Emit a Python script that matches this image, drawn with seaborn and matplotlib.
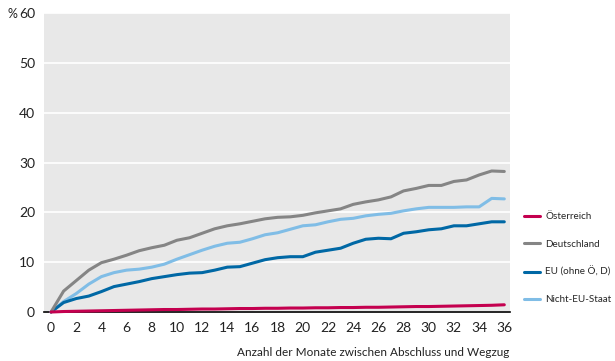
import numpy as np
import pandas as pd
import matplotlib
matplotlib.use("Agg")
import matplotlib.pyplot as plt
import seaborn as sns

months = list(range(37))

oesterreich = [0.0, 0.1, 0.15, 0.2, 0.25, 0.3, 0.35, 0.4, 0.45, 0.5, 0.5, 0.55, 0.6, 0.6, 0.65, 0.7, 0.7,
               0.75, 0.75, 0.8, 0.8, 0.85, 0.85, 0.9, 0.9, 0.95, 0.95, 1.0, 1.05, 1.1, 1.1, 1.15, 1.2,
               1.25, 1.3, 1.35, 1.45]
deutschland = [0.0, 4.2, 6.3, 8.4, 9.9, 10.6, 11.4, 12.3, 12.9, 13.4, 14.4, 14.9, 15.8, 16.7, 17.3, 17.7,
               18.2, 18.7, 19.0, 19.1, 19.4, 19.9, 20.3, 20.7, 21.6, 22.1, 22.5, 23.1, 24.3, 24.8, 25.4,
               25.4, 26.2, 26.5, 27.5, 28.3, 28.2]
eu_ohne = [0.0, 1.9, 2.7, 3.2, 4.1, 5.1, 5.6, 6.1, 6.7, 7.1, 7.5, 7.8, 7.9, 8.4, 9.0, 9.1, 9.8, 10.5, 10.9,
           11.1, 11.1, 12.0, 12.4, 12.8, 13.8, 14.6, 14.8, 14.7, 15.8, 16.1, 16.5, 16.7, 17.3, 17.3, 17.7,
           18.1, 18.1]
nicht_eu = [0.0, 2.1, 3.7, 5.6, 7.1, 7.9, 8.4, 8.6, 9.0, 9.6, 10.6, 11.5, 12.4, 13.2, 13.8, 14.0, 14.7,
            15.5, 15.9, 16.6, 17.3, 17.5, 18.1, 18.6, 18.8, 19.3, 19.6, 19.8, 20.3, 20.7, 21.0, 21.0, 21.0,
            21.1, 21.1, 22.8, 22.7]

series = ["Österreich", "Deutschland", "EU (ohne Ö, D)", "Nicht-EU-Staat"]
colors = ["#c4004f", "#858585", "#0068a5", "#80bde6"]

df = pd.concat([
    pd.DataFrame({"Monat": months, "Anteil": vals, "Ziel": name})
    for name, vals in zip(series, [oesterreich, deutschland, eu_ohne, nicht_eu])
])

sns.set_theme(style="white")
plt.rcParams["font.family"] = ["Lato", "DejaVu Sans"]

fig = plt.figure(figsize=(6.15, 3.61), dpi=100)
ax = fig.add_axes([0.0715, 0.1357, 0.7577, 0.8283])
ax.set_facecolor("#e8e8e8")

# draw light lines first so the red one lies on top, like the original
draw_order = ["Nicht-EU-Staat", "EU (ohne Ö, D)", "Deutschland", "Österreich"]
for name in draw_order:
    sub = df[df["Ziel"] == name]
    sns.lineplot(data=sub, x="Monat", y="Anteil", color=colors[series.index(name)],
                 linewidth=2.2, ax=ax, label=name, zorder=4, clip_on=False)

ax.set_xlim(-0.56, 36.45)
ax.set_ylim(0, 60)
ax.set_yticks(range(0, 61, 10))
ax.set_xticks(range(0, 37, 2))
ax.set_xticks(range(0, 37), minor=True)
ax.yaxis.grid(True, color="white", linewidth=1.2)
ax.set_axisbelow(True)

for side in ["top", "right", "left"]:
    ax.spines[side].set_visible(False)
ax.spines["bottom"].set_color("black")
ax.spines["bottom"].set_linewidth(1.2)

ax.tick_params(axis="x", which="both", direction="in", length=4, width=1, color="#222222",
               labelsize=10, pad=7, labelcolor="#222222")
ax.tick_params(axis="y", length=0, labelsize=10, pad=6.5, labelcolor="#222222")

ax.set_xlabel("")
ax.set_ylabel("")
fig.text(0.012, 0.962, "%", fontsize=9, color="#222222", va="center", ha="left")
fig.text(0.829, 0.008, "Anzahl der Monate zwischen Abschluss und Wegzug", fontsize=8.5,
         color="#222222", ha="right", va="bottom")

handles, labels = ax.get_legend_handles_labels()
order = [labels.index(s) for s in series]
ax.legend([handles[i] for i in order], [labels[i] for i in order],
          loc="upper left", bbox_to_anchor=(0.852, 0.412), bbox_transform=fig.transFigure,
          frameon=False, fontsize=7.1, handlelength=1.6, handletextpad=0.55, labelspacing=1.85,
          borderaxespad=0, borderpad=0)

fig.savefig("out.png", dpi=100)
